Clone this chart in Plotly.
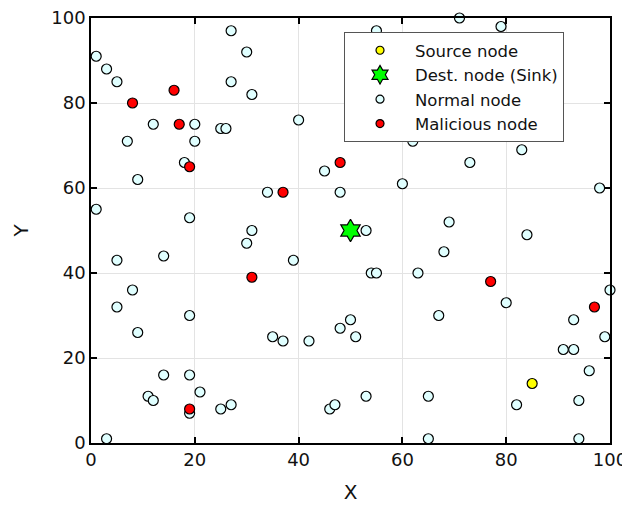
import plotly.graph_objects as go

normal_x = [27, 30, 1, 3, 5, 27, 31, 12, 20, 25, 26, 40, 7, 20, 18, 9, 45, 34, 48, 1,
            19, 31, 30, 5, 14, 39, 8, 5, 19, 9, 35, 37, 42, 48, 50, 51, 14, 19, 21, 11,
            12, 19, 25, 27, 46, 47, 3, 71, 79, 55, 62, 83, 73, 60, 98, 69, 53, 84, 68, 54,
            55, 63, 100, 80, 67, 93, 99, 91, 93, 96, 53, 65, 82, 94, 65, 94]
normal_y = [97, 92, 91, 88, 85, 85, 82, 75, 75, 74, 74, 76, 71, 71, 66, 62, 64, 59, 59, 55,
            53, 50, 47, 43, 44, 43, 36, 32, 30, 26, 25, 24, 24, 27, 29, 25, 16, 16, 12, 11,
            10, 7, 8, 9, 8, 9, 1, 100, 98, 97, 71, 69, 66, 61, 60, 52, 50, 49, 45, 40,
            40, 40, 36, 33, 30, 29, 25, 22, 22, 17, 11, 11, 9, 10, 1, 1]

mal_x = [16, 8, 17, 19, 48, 37, 31, 19, 77, 97]
mal_y = [83, 80, 75, 65, 66, 59, 39, 8, 38, 32]

src_x = [85]
src_y = [14]

sink_x = [50]
sink_y = [50]

names = ["Source node", "Dest. node (Sink)", "Normal node", "Malicious node"]

FONT = "DejaVu Sans, Arial, sans-serif"
edge = dict(color="black", width=1.2)

fig = go.Figure()
fig.add_trace(go.Scatter(x=normal_x, y=normal_y, mode="markers", showlegend=False,
                         cliponaxis=False,
                         marker=dict(size=10, color="#e0ffff", line=edge)))
fig.add_trace(go.Scatter(x=mal_x, y=mal_y, mode="markers", showlegend=False,
                         cliponaxis=False,
                         marker=dict(size=10, color="#ff0000", line=edge)))
fig.add_trace(go.Scatter(x=src_x, y=src_y, mode="markers", showlegend=False,
                         cliponaxis=False,
                         marker=dict(size=10, color="#ffff00", line=edge)))
fig.add_trace(go.Scatter(x=sink_x, y=sink_y, mode="markers", showlegend=False,
                         cliponaxis=False,
                         marker=dict(size=17, symbol="hexagram", color="#00ff00", line=edge)))

leg_styles = [
    dict(size=8, color="#ffff00", line=edge),
    dict(size=14, symbol="hexagram", color="#00ff00", line=edge),
    dict(size=8, color="#e0ffff", line=edge),
    dict(size=8, color="#ff0000", line=edge),
]
for nm, st in zip(names, leg_styles):
    fig.add_trace(go.Scatter(x=[None], y=[None], mode="markers", name=nm, marker=st))

axis_common = dict(
    range=[0, 100], dtick=20, showgrid=True, gridcolor="#e3e3e3", gridwidth=1,
    showline=True, linecolor="black", linewidth=1.6, mirror="ticks",
    ticks="inside", ticklen=6, tickwidth=1.6, tickcolor="black",
    zeroline=False, automargin=False, ticklabeloverflow="allow",
    tickfont=dict(family=FONT, size=18, color="#111"),
)

fig.update_layout(
    width=622, height=497,
    margin=dict(l=83, r=20, t=10, b=62),
    paper_bgcolor="white", plot_bgcolor="white",
    xaxis=dict(**axis_common, title=dict(text="X", font=dict(family=FONT, size=20, color="#111"), standoff=16)),
    yaxis=dict(**axis_common),
    legend=dict(x=0.4875, y=0.967, xanchor="left", yanchor="top",
                bgcolor="white", bordercolor="#555", borderwidth=1,
                font=dict(family=FONT, size=16.5, color="#111"),
                itemwidth=60, entrywidth=240, entrywidthmode="pixels",
                tracegroupgap=0),
    showlegend=True,
    annotations=[dict(text="Y", xref="paper", yref="paper", x=-0.1349, y=0.5,
                      xanchor="center", yanchor="middle", textangle=-90, showarrow=False,
                      font=dict(family=FONT, size=20, color="#111"))],
)

fig.write_html("out.html")
